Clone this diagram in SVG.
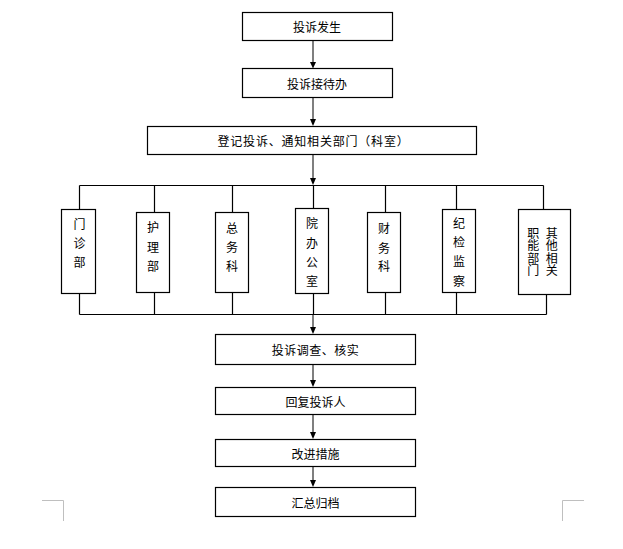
<svg xmlns="http://www.w3.org/2000/svg" width="623" height="549" viewBox="0 0 623 549">
<defs>
<style>
.box{fill:#fff;stroke:#000;stroke-width:1.2}
.t{font-family:"Noto Sans CJK SC","Noto Sans CJK TC",sans-serif;font-size:12px;fill:#000;text-anchor:middle;dominant-baseline:central}
.v{font-family:"Noto Sans CJK SC","Noto Sans CJK TC",sans-serif;font-size:12px;fill:#000;writing-mode:vertical-rl;text-anchor:start;letter-spacing:0.5px}
.ln{stroke:#000;stroke-width:1.2;fill:none}
.ar{stroke:#7f7f7f;stroke-width:2;fill:none}
.ah{fill:#000}
.cm{stroke:#bfbfbf;stroke-width:1;fill:none}
</style>
</defs>
<rect width="623" height="549" fill="#fff"/>
<g id="connectors">
<path class="ar" d="M313 40.5V63"/><polygon class="ah" points="310,62 316,62 313,68.5"/>
<path class="ar" d="M313 97.5V120"/><polygon class="ah" points="310,119 316,119 313,126"/>
<path class="ar" d="M313 154.5V179"/><polygon class="ah" points="310,178 316,178 313,185"/>
<path class="ln" d="M79.5 185.5H543.5"/>
<path class="ln" d="M79.5 185.5V209.5M154.5 185.5V212.5M232.5 185.5V212.5M313.5 185.5V208.5M385.5 185.5V212.5M456.5 185.5V209.5M543.5 185.5V209.5"/>
<path class="ln" d="M79.5 314.5H546.5"/>
<path class="ln" d="M79.5 293.5V314.5M154.5 292.5V314.5M232.5 292.5V314.5M313.5 293.5V314.5M385.5 292.5V314.5M456.5 292.5V314.5M546.5 294.5V314.5"/>
<path class="ar" d="M313 315V328"/><polygon class="ah" points="310,327 316,327 313,334"/>
<path class="ar" d="M313 364.5V381"/><polygon class="ah" points="310,380 316,380 313,387"/>
<path class="ar" d="M313 414.5V433"/><polygon class="ah" points="310,432 316,432 313,439"/>
<path class="ar" d="M313 466.5V481"/><polygon class="ah" points="310,480 316,480 313,487"/>
</g>
<g id="n1"><rect class="box" x="242.5" y="12.5" width="150" height="28"/><text class="t" x="317" y="26.5">投诉发生</text></g>
<g id="n2"><rect class="box" x="242.5" y="68.5" width="150" height="29"/><text class="t" x="317" y="83">投诉接待办</text></g>
<g id="n3"><rect class="box" x="147.5" y="126.5" width="329" height="28"/><text class="t" x="313.5" y="140.5" letter-spacing="0.8">登记投诉、通知相关部门（科室）</text></g>
<g id="d1"><rect class="box" x="61.5" y="209.5" width="34" height="84"/>
<text class="t" x="79.5" y="223">门</text><text class="t" x="79.5" y="242">诊</text><text class="t" x="79.5" y="261">部</text></g>
<g id="d2"><rect class="box" x="136.5" y="212.5" width="33" height="80"/>
<text class="t" x="153" y="226.5">护</text><text class="t" x="153" y="246">理</text><text class="t" x="153" y="265.3">部</text></g>
<g id="d3"><rect class="box" x="215.5" y="212.5" width="33" height="80"/>
<text class="t" x="232" y="227">总</text><text class="t" x="232" y="246.5">务</text><text class="t" x="232" y="265">科</text></g>
<g id="d4"><rect class="box" x="295.5" y="208.5" width="33" height="85"/>
<text class="t" x="312" y="222.5">院</text><text class="t" x="312" y="242">办</text><text class="t" x="312" y="261">公</text><text class="t" x="312" y="280">室</text></g>
<g id="d5"><rect class="box" x="367.5" y="212.5" width="33" height="80"/>
<text class="t" x="384" y="227.5">财</text><text class="t" x="384" y="247">务</text><text class="t" x="384" y="265.3">科</text></g>
<g id="d6"><rect class="box" x="442.5" y="209.5" width="33" height="83"/>
<text class="t" x="459" y="222.5">纪</text><text class="t" x="459" y="241">检</text><text class="t" x="459" y="260.3">监</text><text class="t" x="459" y="280">察</text></g>
<g id="d7"><rect class="box" x="518.5" y="209.5" width="52" height="85"/>
<text class="v" x="551.7" y="227">其他相关</text>
<text class="v" x="533.3" y="227">职能部门</text></g>
<g id="n4"><rect class="box" x="215.5" y="334.5" width="200" height="30"/><text class="t" x="315.5" y="349.5" letter-spacing="0.5">投诉调查、核实</text></g>
<g id="n5"><rect class="box" x="215.5" y="387.5" width="200" height="27"/><text class="t" x="315.5" y="401">回复投诉人</text></g>
<g id="n6"><rect class="box" x="215.5" y="439.5" width="200" height="27"/><text class="t" x="315.5" y="453">改进措施</text></g>
<g id="n7"><rect class="box" x="215.5" y="487.5" width="200" height="29"/><text class="t" x="315.5" y="502">汇总归档</text></g>
<g id="corners">
<path class="cm" d="M42 500.5H63.5V521"/>
<path class="cm" d="M562.5 521V500.5H584"/>
</g>
</svg>
